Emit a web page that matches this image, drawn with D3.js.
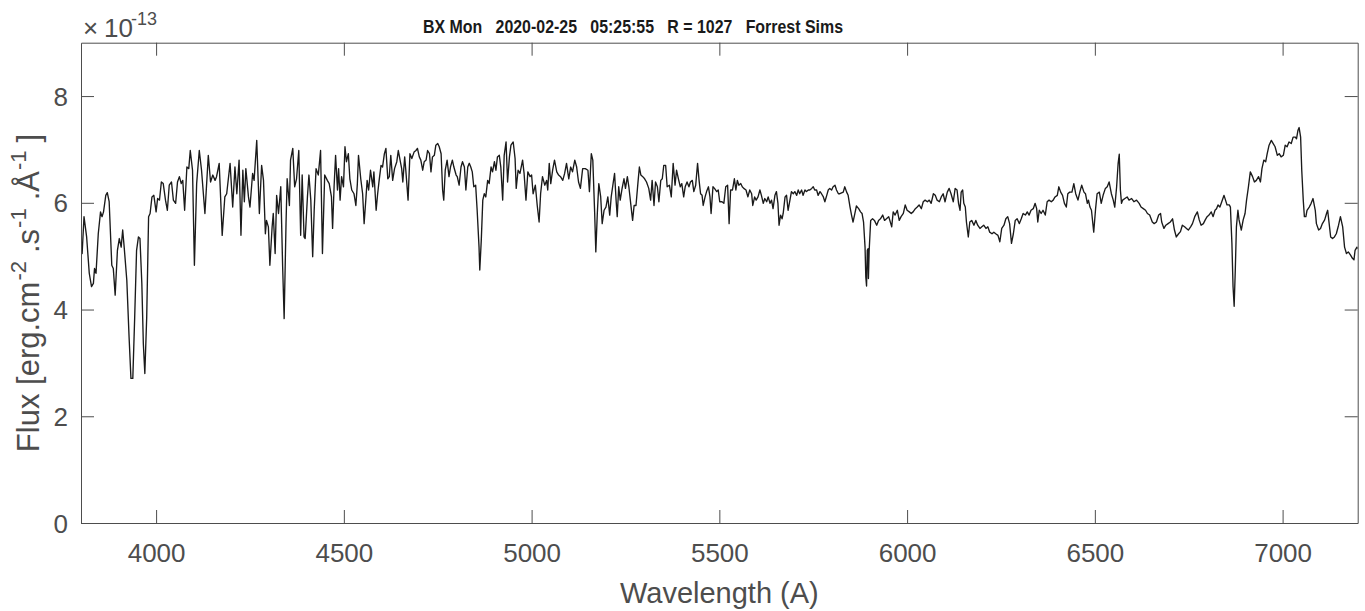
<!DOCTYPE html>
<html>
<head>
<meta charset="utf-8">
<script src="https://cdn.jsdelivr.net/npm/d3@7"></script>
<style>
  html, body { margin: 0; padding: 0; background: #fff; }
  svg { display: block; font-family: "Liberation Sans", Arial, Helvetica, sans-serif; }
</style>
</head>
<body>
<svg id="chart" width="1365" height="611"></svg>
<script>
const titleText = "BX Mon   2020-02-25   05:25:55   R = 1027   Forrest Sims";
const xLabel = "Wavelength (A)";
const xTicks = [4000, 4500, 5000, 5500, 6000, 6500, 7000];
const yTicks = [0, 2, 4, 6, 8];
const xDomain = [3800, 7200];
const yDomain = [0, 9];

// wavelength in Angstrom, flux in units of 1e-13 erg/cm2/s/A
const wavelengths = [
  3800,3803,3808,3815,3822,3828,3833,3836,3840,3846,3852,3856,3860,3866,3870,3875,3882,3886,3891,3897,
  3902,3907,3911,3915,3922,3928,3933,3938,3943,3948,3953,3957,3962,3966,3970,3975,3980,3984,3989,3994,
  4000,4004,4009,4014,4019,4025,4030,4035,4041,4046,4052,4057,4062,4067,4071,4076,4082,4087,4091,4097,
  4102,4108,4115,4121,4130,4139,4145,4151,4157,4161,4168,4176,4183,4188,4197,4204,4210,4215,4221,4226,
  4231,4235,4239,4246,
  4250,4257,4261,4268,4275,4281,4286,4291,4294,4299,4303,4309,4312,4317,4321,4326,4332,4337,4341,4346,
  4349,4355,4358,4364,4369,4374,4380,4385,4389,4394,4397,4403,4407,4412,4417,4421,4426,4432,4438,4443,
  4449,4456,4461,4467,4470,4474,4478,4483,4486,4490,4494,4499,4503,4507,4512,4516,4521,4527,4532,4536,
  4539,4545,4550,4554,4559,4562,4566,4571,4577,4580,4586,4590,4594,4599,4603,4608,4612,4617,4621,4625,
  4630,4635,4641,4645,4649,4654,4657,4662,4665,4671,4676,4681,4687,4692,4696,4701,4705,4710,4714,4719,
  4723,4728,4732,4736,4741,4745,4750,4754,4759,4763,4766,4770,4775,4780,4784,4789,4793,4799,4802,4807,
  4812,4816,4821,4825,4830,4834,4838,4842,4846,4851,4855,4860,4862,4866,4870,4874,4878,4883,4887,4892,
  4896,4901,4905,4909,4914,4918,4923,4927,4932,4936,4941,4945,4951,4956,4959,4964,
  4969,4976,4980,4985,4990,4996,5000,5004,5010,5015,5020,5024,5029,5035,5040,5043,5047,5051,5056,5061,
  5067,5072,5077,5083,5088,5093,5099,5104,5109,5115,5120,5125,5130,5136,5143,5150,5154,5159,5163,5168,
  5171,5175,5179,5184,5188,5193,5198,5203,5208,5212,5217,5221,5225,5228,5232,5236,5241,5246,5250,5255,
  5259,5265,5269,5273,5278,5283,5287,5291,5296,5301,5306,5312,5317,5321,5326,5330,5335,5339,5344,5348,
  5352,5357,5361,5367,5372,5377,5382,5386,5391,5396,5400,5405,5409,5414,5419,5423,5428,5432,5437,5442,
  5446,5450,5454,5457,5462,5466,5471,5475,5478,5483,5487,5493,5497,5501,5507,5512,5517,5522,5526,5530,
  5535,5540,5544,5548,5552,5557,5561,5565,5571,5576,5581,5586,5589,5594,5598,5603,5608,5612,5617,5621,
  5626,5630,5635,5639,5643,5648,5652,5656,5659,5663,5667,5670,5675,5679,5683,5688,5692,5697,5701,5706,
  5710,5714,5719,5723,5728,5732,5737,5741,5746,5750,5754,5759,5763,5768,5772,5777,5781,5786,5790,5794,
  5799,5803,5808,5812,5817,
  5821,5830,5834,5839,5843,5848,5852,5856,5860,5865,5871,5876,5880,5884,5888,5890,5892,5894,5896,5897,
  5899,5903,5908,5913,5919,5924,5929,5935,5940,5945,5951,5954,5959,5963,5968,5974,5979,5984,5990,5995,
  6000,6006,6011,6016,6022,6027,6032,6038,6043,6048,6054,6059,6064,6070,6075,6080,6086,6091,6096,6101,
  6107,6112,6117,6123,6128,6133,6137,6141,6144,6148,6151,6155,6158,6163,6167,6172,6178,6183,6188,6194,
  6199,6204,6210,6215,6220,6226,6231,6236,6242,6247,6252,6258,6263,6268,6273,6278,6283,6288,6293,6299,
  6304,6309,6315,6320,6325,6330,6336,6341,6345,6348,6352,6357,6362,6368,6373,6378,6384,6389,6394,6400,
  6404,6409,6414,6419,6424,6428,6433,6439,6444,6449,6455,6460,6465,6471,6475,6480,6483,6487,6491,6497,
  6502,6506,6512,6517,6522,6528,6533,6538,6544,6549,6553,6558,6562,6565,6568,6571,
  6574,6580,6586,6591,6598,6604,6611,6618,6623,6629,6635,6640,6646,6653,6658,6664,6670,6675,6678,6684,
  6689,6695,6701,6707,6712,6717,6723,6728,6733,6739,6744,6749,6755,6760,6766,6773,6778,6783,6789,6794,
  6799,6804,6810,6815,6820,6824,6828,6833,6838,6844,6848,6852,6858,6861,6865,6868,6871,6874,6877,6881,
  6884,6890,6895,6900,6904,6909,6914,6920,6925,6930,6936,6941,6945,6950,6955,6959,6964,6970,6975,6980,
  6986,6991,6996,7002,7007,7012,7017,7023,7028,7034,7037,7041,7044,7048,7051,7055,7058,7062,7065,7071,
  7076,7081,7087,7090,7096,7101,7106,7112,7117,7120,7124,7128,7133,7138,7143,7149,7154,7160,7165,7170,
  7175,7181,7186,7190,7193,7198,7200
];

const fluxValues = [
  5.17,5.05,5.74,5.36,4.68,4.43,4.49,4.77,4.68,5.42,5.83,5.74,5.83,6.14,6.19,6.02,4.83,4.77,4.27,5.11,
  5.33,5.17,5.49,5.17,4.55,3.49,2.71,2.71,3.86,5.11,5.36,5.33,4.49,3.36,2.80,3.86,5.74,5.80,6.11,6.14,
  5.83,6.08,6.05,6.39,6.36,6.05,5.86,6.33,6.39,6.05,5.99,6.39,6.49,6.36,6.42,5.86,6.67,6.64,6.98,6.61,
  4.83,6.36,6.98,6.61,5.80,6.89,6.39,6.52,6.42,6.49,6.74,5.39,6.11,6.17,6.74,5.92,6.67,6.17,6.80,5.39,
  6.61,6.02,6.64,6.11,
  5.92,6.55,6.42,7.17,5.80,6.70,6.42,5.42,5.67,5.55,4.83,5.55,5.80,5.05,6.14,5.80,6.30,4.80,3.83,5.61,
  6.45,5.95,6.80,7.02,6.30,6.45,6.98,5.39,6.52,5.36,5.33,6.11,6.52,6.05,4.99,5.86,6.64,6.52,6.98,5.05,
  6.52,6.42,6.36,6.11,5.52,6.30,6.89,6.24,6.64,6.05,6.49,6.30,7.05,6.77,6.92,6.45,6.24,6.17,5.95,6.36,
  6.89,6.45,6.17,5.61,6.11,6.42,6.24,6.61,6.30,6.58,5.86,6.17,6.42,6.70,6.67,6.92,7.02,6.45,6.49,6.89,
  6.42,6.64,6.77,6.98,6.83,6.64,6.39,6.86,6.61,6.05,6.92,6.83,6.95,6.98,7.02,6.86,6.80,6.61,6.77,6.80,
  6.98,6.92,6.58,6.86,6.89,7.08,7.11,7.05,6.92,6.24,6.05,6.61,6.80,6.49,6.67,6.80,6.67,6.52,6.49,6.33,
  6.67,6.77,6.67,6.24,6.67,6.74,6.67,6.58,6.30,6.33,5.86,5.17,4.74,5.30,6.05,6.17,6.11,6.42,6.36,6.67,
  6.58,6.77,6.61,6.86,6.89,6.67,6.05,6.89,7.14,6.39,6.86,7.08,7.14,6.83,6.27,6.61,
  6.55,6.80,6.55,6.05,6.58,6.49,6.52,6.17,6.33,5.95,5.64,6.17,6.49,6.33,6.42,6.24,6.74,6.36,6.61,6.80,
  6.58,6.52,6.49,6.42,6.55,6.74,6.45,6.67,6.58,6.80,6.67,6.39,6.27,6.64,6.64,6.61,6.21,6.92,6.80,5.80,
  5.08,5.80,6.36,6.11,5.61,5.86,5.92,6.11,5.77,6.11,6.36,6.55,6.05,5.74,6.30,6.05,6.27,6.45,6.27,6.49,
  6.30,5.92,5.67,5.95,5.95,6.36,6.67,6.52,6.49,6.45,6.39,6.27,6.05,6.42,5.95,6.39,6.30,6.02,6.42,6.45,
  6.70,6.70,6.30,6.33,6.11,6.74,6.33,6.61,6.45,6.30,6.36,6.11,6.30,6.39,6.30,6.39,6.42,6.21,6.33,6.74,
  6.42,6.17,6.14,5.95,6.11,6.21,6.30,6.11,5.80,6.30,6.27,6.21,6.24,6.02,6.02,5.99,6.30,6.33,5.61,6.24,
  6.24,6.45,6.24,6.42,6.33,6.36,6.30,6.27,6.24,6.11,6.24,6.17,5.95,6.11,6.05,6.11,6.24,6.14,5.99,6.08,
  6.02,6.11,5.99,6.05,5.89,6.14,6.21,5.99,5.58,5.77,5.70,5.80,6.11,6.14,5.86,6.05,6.21,6.17,6.21,6.14,
  6.24,6.17,6.24,6.14,6.24,6.21,6.24,6.24,6.27,6.30,6.24,6.24,6.14,6.21,6.17,6.11,6.02,6.14,6.24,6.27,
  6.24,6.30,6.33,6.24,6.17,
  6.17,6.20,6.30,6.20,6.14,5.92,5.77,5.64,5.77,5.94,5.89,5.83,5.80,5.64,5.17,4.61,4.44,5.11,5.14,4.58,
  5.11,5.67,5.70,5.67,5.58,5.67,5.70,5.77,5.67,5.70,5.74,5.67,5.55,5.83,5.77,5.86,5.67,5.74,5.80,5.96,
  5.86,5.83,5.80,5.83,5.89,5.92,5.96,5.89,6.02,6.05,6.02,6.05,5.99,6.17,6.14,6.05,6.02,6.11,6.17,6.02,
  6.20,6.27,6.17,6.02,6.27,6.24,5.99,5.86,6.20,6.24,5.99,5.92,5.64,5.36,5.64,5.67,5.58,5.67,5.58,5.52,
  5.55,5.58,5.52,5.55,5.45,5.42,5.45,5.42,5.39,5.27,5.52,5.58,5.70,5.74,5.61,5.24,5.42,5.67,5.70,5.61,
  5.70,5.80,5.77,5.83,5.77,5.86,5.89,5.99,5.89,5.64,5.86,5.80,5.86,5.77,6.02,6.05,6.02,6.05,6.11,6.14,
  6.30,6.20,6.14,5.99,5.92,6.17,6.20,6.20,6.36,6.17,6.05,6.20,6.33,6.20,6.17,5.99,6.05,5.92,5.86,5.45,
  5.89,6.17,6.20,5.99,6.14,6.27,6.30,6.39,6.17,6.05,5.92,6.30,6.74,6.91,6.24,5.99,
  6.05,6.08,6.11,6.05,6.08,6.02,6.05,5.99,5.92,5.89,5.86,5.80,5.77,5.64,5.61,5.64,5.77,5.80,5.64,5.52,
  5.58,5.61,5.64,5.70,5.49,5.36,5.42,5.46,5.58,5.55,5.52,5.49,5.55,5.61,5.74,5.83,5.68,5.58,5.61,5.68,
  5.74,5.77,5.83,5.74,5.86,5.89,5.96,5.92,6.02,6.14,6.05,5.96,5.96,5.92,5.24,4.43,4.06,4.74,5.55,5.86,
  5.68,5.49,5.68,5.80,6.05,6.30,6.58,6.49,6.39,6.42,6.49,6.39,6.64,6.80,6.77,6.92,7.08,7.17,7.11,7.05,
  6.89,6.92,6.86,6.89,7.08,7.05,7.14,7.11,7.23,7.23,7.20,7.36,7.41,7.23,6.61,6.05,5.74,5.74,5.86,5.92,
  5.99,6.08,5.86,5.61,5.49,5.52,5.61,5.68,5.80,5.86,5.61,5.36,5.33,5.36,5.42,5.58,5.74,5.55,5.17,5.05,
  5.08,5.02,4.96,4.93,5.11,5.17,5.14
];

const svg = d3.select("#chart");
const W = 1365, H = 611;
const margin = { top: 42.7, right: 7.3, bottom: 88, left: 81 };
const plotW = W - margin.left - margin.right;
const plotH = H - margin.top - margin.bottom;
const axisColor = "#4d4d4d";
const tickLen = 13;

const x = d3.scaleLinear().domain(xDomain).range([0, plotW]);
const y = d3.scaleLinear().domain(yDomain).range([plotH, 0]);

const g = svg.append("g").attr("transform", `translate(${margin.left},${margin.top})`);

const spectrum = wavelengths.map((w, i) => ({ w: w, f: fluxValues[i] }));

g.append("defs").append("clipPath").attr("id", "plot-clip")
  .append("rect").attr("width", plotW).attr("height", plotH);

g.append("path")
  .datum(spectrum)
  .attr("clip-path", "url(#plot-clip)")
  .attr("fill", "none")
  .attr("stroke", "#1a1a1a")
  .attr("stroke-width", 1.35)
  .attr("stroke-linejoin", "round")
  .attr("d", d3.line().x(d => x(d.w)).y(d => y(d.f)));

function styleAxis(sel) {
  sel.select(".domain").attr("stroke", axisColor).attr("stroke-width", 1);
  sel.selectAll(".tick line").attr("stroke", axisColor).attr("stroke-width", 1);
  sel.selectAll(".tick text").attr("fill", axisColor);
}

// bottom axis with labels
const xAxisG = g.append("g")
  .attr("transform", `translate(0,${plotH})`)
  .call(d3.axisBottom(x).tickValues(xTicks).tickSizeInner(-tickLen).tickSizeOuter(0)
    .tickFormat(d3.format("d")));
xAxisG.selectAll(".tick text")
  .attr("y", 39).attr("dy", null)
  .style("font-size", "26px");
xAxisG.call(styleAxis);

// top axis, ticks only
g.append("g")
  .call(d3.axisTop(x).tickValues(xTicks).tickSizeInner(-tickLen).tickSizeOuter(0).tickFormat(""))
  .call(styleAxis);

// left axis with labels
const yAxisG = g.append("g")
  .call(d3.axisLeft(y).tickValues(yTicks).tickSizeInner(-tickLen).tickSizeOuter(0)
    .tickFormat(d3.format("d")));
yAxisG.selectAll(".tick text")
  .attr("x", -13).attr("dy", "0.35em")
  .style("font-size", "26px");
yAxisG.call(styleAxis);

// right axis, ticks only
g.append("g")
  .attr("transform", `translate(${plotW},0)`)
  .call(d3.axisRight(y).tickValues(yTicks).tickSizeInner(-tickLen).tickSizeOuter(0).tickFormat(""))
  .call(styleAxis);

svg.selectAll(".domain").attr("fill", "none");

// x label
svg.append("text")
  .attr("x", margin.left + plotW / 2)
  .attr("y", 603)
  .attr("text-anchor", "middle")
  .attr("fill", axisColor)
  .style("font-size", "29px")
  .text(xLabel);

// y label with superscripts (tex-like spacing after the exponents)
const yl = svg.append("text")
  .attr("transform", "translate(39,293) rotate(-90)")
  .attr("text-anchor", "middle")
  .attr("fill", axisColor)
  .style("font-size", "31px");
const supShift = 13;
const supGap = 8;
[
  ["Flux [erg.cm", false], ["-2", true], [".s", false], ["-1", true],
  [".\u00C5", false], ["-1", true], ["]", false]
].forEach(([t, sup], i) => {
  const ts = yl.append("tspan").text(t);
  if (sup) ts.attr("dy", -supShift).attr("dx", 1).style("font-size", "22px");
  else if (i > 0) ts.attr("dy", supShift).attr("dx", supGap);
});

// exponent label
const expG = svg.append("g").attr("fill", axisColor);
expG.append("text").attr("x", 83).attr("y", 37).style("font-size", "26px").text("\u00D7");
expG.append("text").attr("x", 104).attr("y", 37).style("font-size", "26px").text("10");
expG.append("text").attr("x", 131).attr("y", 25).style("font-size", "18px").text("-13");

// title
svg.append("text")
  .attr("x", 423)
  .attr("y", 32.5)
  .attr("fill", "#1a1a1a")
  .attr("textLength", 420)
  .attr("lengthAdjust", "spacingAndGlyphs")
  .style("font-size", "19px")
  .style("font-weight", "bold")
  .style("white-space", "pre")
  .text(titleText);
</script>
</body>
</html>
